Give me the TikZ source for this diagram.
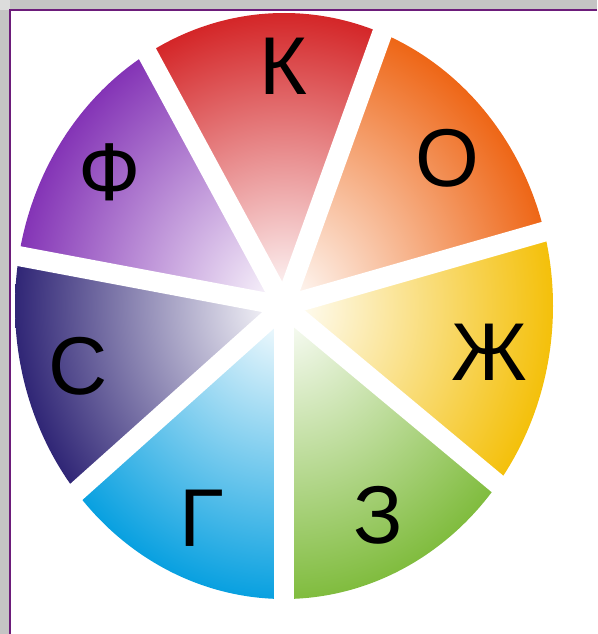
\documentclass[tikz,border=0pt]{standalone}
\usepackage{fontspec}
\setmainfont{Liberation Sans}
\definecolor{wheelred}{RGB}{212,38,40}
\definecolor{wheelorange}{RGB}{238,102,22}
\definecolor{wheelyellow}{RGB}{244,192,10}
\definecolor{wheelgreen}{RGB}{128,188,62}
\definecolor{wheelblue}{RGB}{8,160,224}
\definecolor{wheelindigo}{RGB}{48,38,118}
\definecolor{wheelviolet}{RGB}{132,52,182}
\definecolor{framepurple}{RGB}{108,28,122}
\definecolor{shadowgray}{RGB}{196,196,196}
\begin{document}
\begin{tikzpicture}[x=1pt,y=1pt,
  letter/.style={font=\fontsize{82}{86}\selectfont,inner sep=0pt,text=black}]
  \useasboundingbox (0,0) rectangle (597,634);
  \fill[shadowgray] (0,0) rectangle (10,624);
  \fill[shadowgray] (10,624) rectangle (597,634);
  \fill[shadowgray!60] (0,624) rectangle (10,634);
  \draw[framepurple,line width=2.2pt] (10,0)--(10,624)--(597,624);
  \coordinate (c) at (284,328);
  \foreach \a/\b/\col in {-90/-38/wheelgreen,-38/15/wheelyellow,15/69/wheelorange,
      69/120/wheelred,120/170/wheelviolet,170/220/wheelindigo,220/270/wheelblue} {
    \begin{scope}
      \clip (c) -- ++(\a:269 and 293)
        arc[start angle=\a,end angle=\b,x radius=269,y radius=293] -- cycle;
      \shade[inner color=white,outer color=\col] (c) ellipse[x radius=269,y radius=293];
    \end{scope}
  }
  \begin{scope}
    \clip (c) ellipse[x radius=272,y radius=296];
    \foreach \a in {-90,-38,15,69,120,170,220}
      \draw[white,line width=20pt] (c) -- ++(\a:300 and 320);
  \end{scope}
  \node[letter] (lk) at (283,568) {К};
  \node[letter] (lo) at (447,476) {О};
  \node[letter] (lzh) at (489,282) {Ж};
  \node[letter] (lz) at (378,119) {З};
  \node[letter] (lg) at (202,116) {Г};
  \node[letter] (ls) at (78,268) {С};
  \node[letter] (lf) at (110,462) {Ф};
\end{tikzpicture}
\end{document}
